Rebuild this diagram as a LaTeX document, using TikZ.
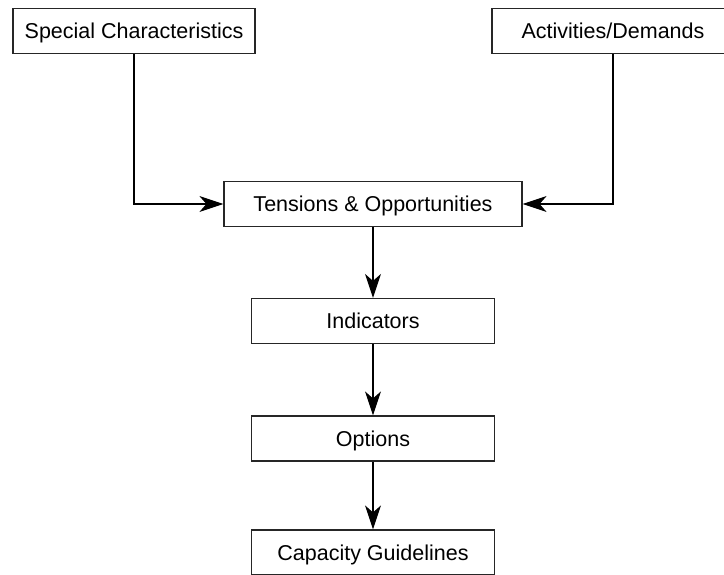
\documentclass[tikz,border=0pt]{standalone}
\usepackage{fontspec}
\setmainfont{Liberation Sans}
\usetikzlibrary{positioning,arrows.meta}

\begin{document}
\begin{tikzpicture}[
  x=1pt, y=-1pt,
  every node/.style={font=\fontsize{21.5}{25}\selectfont},
  block/.style={rectangle, draw=black!85, line width=1.2pt, fill=white, minimum height=45pt,
    inner sep=0pt, text height=15.5pt, text depth=0pt},
  flow/.style={line width=1.1pt, arrows={-Stealth[length=24pt, width=16pt, inset=7pt]}}
]
  \clip (0,0) rectangle (724,574);
  \useasboundingbox (0,0) rectangle (724,574);

  \node[block, minimum width=242pt] (spc) at (134,31)    {Special Characteristics};
  \node[block, minimum width=242pt] (act) at (613,31)    {Activities/Demands};
  \node[block, minimum width=298pt] (ten) at (373,204)   {Tensions \& Opportunities};
  \node[block, minimum width=243pt] (ind) at (373,321)   {Indicators};
  \node[block, minimum width=243pt] (opt) at (373,438.5) {Options};
  \node[block, minimum width=243pt] (cap) at (373,552.5) {Capacity Guidelines};

  \draw[flow] (spc.south) |- (ten.west);
  \draw[flow] (act.south) |- (ten.east);
  \draw[flow] (ten.south) -- (ind.north);
  \draw[flow] (ind.south) -- (opt.north);
  \draw[flow] (opt.south) -- (cap.north);
\end{tikzpicture}
\end{document}
